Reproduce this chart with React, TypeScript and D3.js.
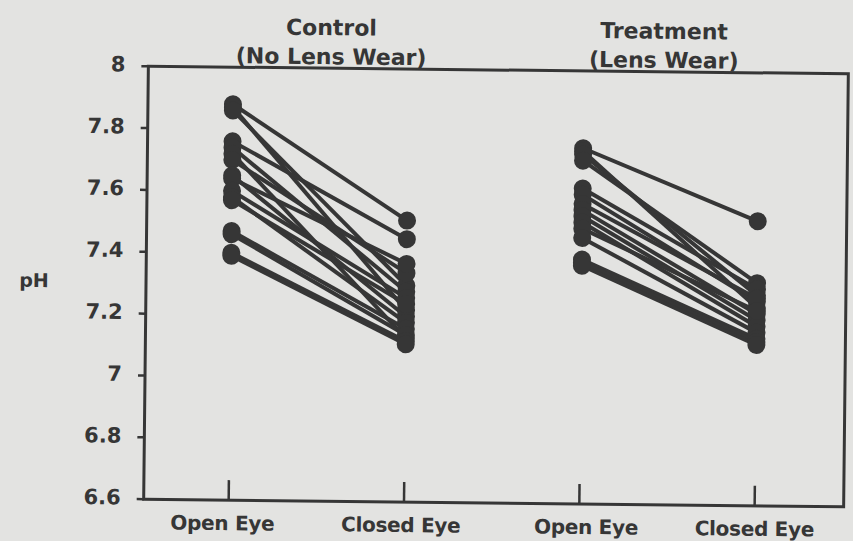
import React from "react";
import * as d3 from "d3";

// x categories
const conditions = ["Open Eye", "Closed Eye", "Open Eye", "Closed Eye"];
const groupTitles = [["Control", "(No Lens Wear)"], ["Treatment", "(Lens Wear)"]];
const yTicks = [6.6, 6.8, 7, 7.2, 7.4, 7.6, 7.8, 8];

// pH per subject, open eye -> closed eye
const controlOpen = [7.88, 7.87, 7.86, 7.76, 7.74, 7.72, 7.7, 7.65, 7.64, 7.6, 7.58, 7.57, 7.47, 7.46, 7.4, 7.39];
const controlClosed = [7.51, 7.22, 7.3, 7.45, 7.28, 7.13, 7.34, 7.2, 7.37, 7.26, 7.18, 7.24, 7.16, 7.14, 7.12, 7.11];
const treatOpen = [7.75, 7.74, 7.73, 7.71, 7.62, 7.6, 7.57, 7.55, 7.53, 7.51, 7.49, 7.46, 7.39, 7.38, 7.37];
const treatClosed = [7.52, 7.24, 7.28, 7.32, 7.3, 7.26, 7.27, 7.22, 7.2, 7.18, 7.23, 7.16, 7.14, 7.13, 7.12];

const W = 853, H = 541;
const frame = { left: 146, top: 70, right: 846, bottom: 503 };
const ink = "#363636";
const font = "'DejaVu Sans', Verdana, sans-serif";
const titleShift = [10, -8];
const labelShift = [-6, -3, 7, 0];

export default function App() {
  const y = d3.scaleLinear().domain([6.6, 8]).range([frame.bottom, frame.top]);
  const x = d3.scaleLinear().domain([0, 3]).range([231, 757]);

  const groups = [
    { open: controlOpen, closed: controlClosed, i: 0 },
    { open: treatOpen, closed: treatClosed, i: 2 },
  ];

  return (
    <svg width={W} height={H} style={{ position: "absolute", left: 0, top: 0, background: "#e3e3e1" }}>
      <rect x={0} y={0} width={W} height={H} fill="#e3e3e1" />
      <g transform={`rotate(0.62, ${(frame.left + frame.right) / 2}, ${(frame.top + frame.bottom) / 2})`}>
        {/* frame */}
        <rect x={frame.left} y={frame.top} width={frame.right - frame.left} height={frame.bottom - frame.top}
          fill="none" stroke={ink} strokeWidth={3} />
        {/* y ticks */}
        {yTicks.map(t => (
          <g key={t}>
            <line x1={frame.left - 7} x2={frame.left} y1={y(t)} y2={y(t)} stroke={ink} strokeWidth={2.5} />
            <text x={frame.left - 23} y={y(t) - 2} dy="0.36em" textAnchor="end" fontFamily={font} fontWeight="bold"
              fontSize={21} fill={ink}>{t}</text>
          </g>
        ))}
        <text x={34} y={292} textAnchor="middle" fontFamily={font} fontWeight="bold" fontSize={19} fill={ink}>pH</text>
        {/* x ticks + labels */}
        {conditions.map((c, i) => (
          <g key={i}>
            <line x1={x(i)} x2={x(i)} y1={frame.bottom} y2={frame.bottom - 20} stroke={ink} strokeWidth={2.5} />
            <text x={x(i) + labelShift[i]} y={533} textAnchor="middle" fontFamily={font} fontWeight="bold"
              fontSize={20} letterSpacing={-0.3} fill={ink}>{c}</text>
          </g>
        ))}
        {/* group titles */}
        {groupTitles.map((t, gi) => {
          const cx = (x(gi * 2) + x(gi * 2 + 1)) / 2 + titleShift[gi];
          return (
            <g key={gi}>
              <text x={cx} y={37} textAnchor="middle" fontFamily={font} fontWeight="bold" fontSize={22} fill={ink}>{t[0]}</text>
              <text x={cx} y={66} textAnchor="middle" fontFamily={font} fontWeight="bold" fontSize={22} fill={ink}>{t[1]}</text>
            </g>
          );
        })}
        {/* subjects */}
        {groups.map(g => (
          <g key={g.i}>
            {g.open.map((v, k) => (
              <line key={k} x1={x(g.i)} y1={y(v)} x2={x(g.i + 1)} y2={y(g.closed[k])} stroke={ink} strokeWidth={4} />
            ))}
            {g.open.map((v, k) => (
              <circle key={"o" + k} cx={x(g.i)} cy={y(v)} r={9} fill={ink} />
            ))}
            {g.closed.map((v, k) => (
              <circle key={"c" + k} cx={x(g.i + 1)} cy={y(v)} r={9} fill={ink} />
            ))}
          </g>
        ))}
      </g>
    </svg>
  );
}
